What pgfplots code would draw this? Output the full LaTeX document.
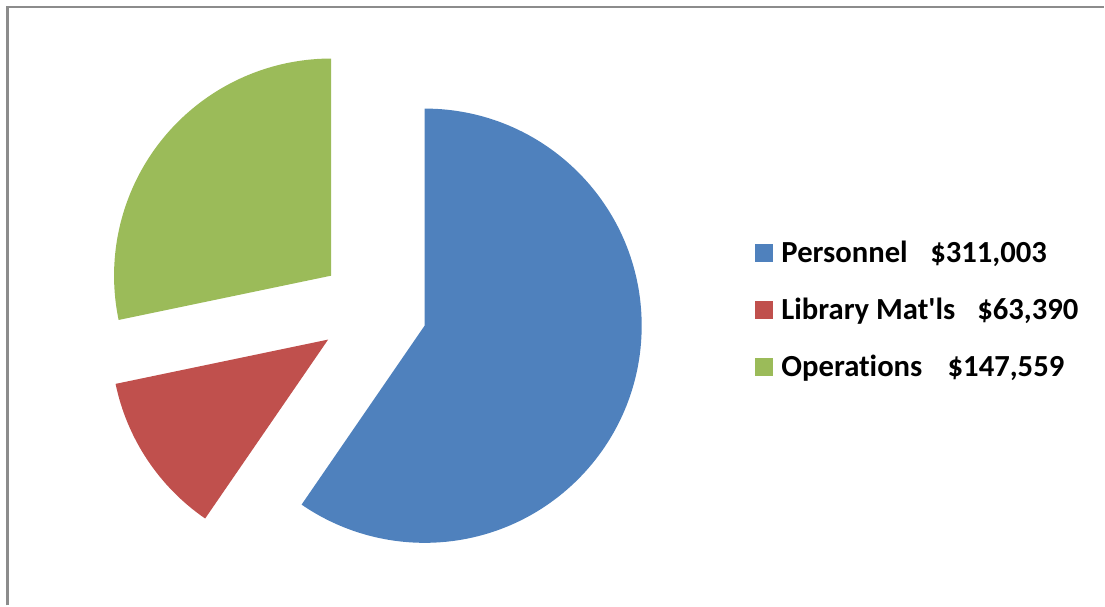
\documentclass[border=0pt]{standalone}
\usepackage{pgfplots}
\pgfplotsset{compat=1.18}
\usepackage{fontspec}
\setmainfont{Carlito}[Ligatures={NoCommon}]
\definecolor{cP}{HTML}{4F81BD}
\definecolor{cL}{HTML}{C0504D}
\definecolor{cO}{HTML}{9BBB59}
\definecolor{frame}{HTML}{8C8C8C}
% data
\newcommand\vP{311003}
\newcommand\vL{63390}
\newcommand\vO{147559}
\edef\tot{\fpeval{\vP+\vL+\vO}}
\edef\aA{90}
\edef\aB{\fpeval{90-360*\vP/\tot}}
\edef\aC{\fpeval{\aB-360*\vL/\tot}}
\edef\aD{\fpeval{\aC-360*\vO/\tot}}
\edef\mA{\fpeval{(\aA+\aB)/2}}
\edef\mB{\fpeval{(\aB+\aC)/2}}
\edef\mC{\fpeval{(\aC+\aD)/2}}
\def\cx{373.4}\def\cy{296}\def\ex{54}
\edef\pAx{\fpeval{\cx+\ex*cosd(\mA)}}\edef\pAy{\fpeval{\cy+\ex*sind(\mA)}}
\edef\pBx{\fpeval{\cx+\ex*cosd(\mB)}}\edef\pBy{\fpeval{\cy+\ex*sind(\mB)}}
\edef\pCx{\fpeval{\cx+\ex*cosd(\mC)}}\edef\pCy{\fpeval{\cy+\ex*sind(\mC)}}
\def\R{163pt}
\begin{document}
\begin{tikzpicture}
\begin{axis}[
  x=0.75pt, y=0.75pt,
  xmin=0, xmax=1105, ymin=0, ymax=606,
  hide axis, clip=false,
  legend cell align=left,
  legend style={at={(axis cs:751,296)}, anchor=west, draw=none, fill=none,
    font=\bfseries\fontsize{23}{27}\selectfont, row sep=21pt,
    nodes={inner xsep=7pt}},
]
\path (axis cs:0,0) rectangle (axis cs:1105,606);
\draw[frame, line width=1.6pt] (axis cs:7.5,0) -- (axis cs:7.5,599) -- (axis cs:1105,599);
\fill[cP] (axis cs:\pAx,\pAy) -- ++(\aA:\R) arc[start angle=\aA, end angle=\aB, radius=\R] -- cycle;
\fill[cL] (axis cs:\pBx,\pBy) -- ++(\aB:\R) arc[start angle=\aB, end angle=\aC, radius=\R] -- cycle;
\fill[cO] (axis cs:\pCx,\pCy) -- ++(\aC:\R) arc[start angle=\aC, end angle=\aD, radius=\R] -- cycle;
\addlegendimage{legend image code/.code={\fill[cP] (0pt,-6.4pt) rectangle (12.8pt,6.4pt);}}
\addlegendentry{Personnel\hspace{17pt}\$311,003}
\addlegendimage{legend image code/.code={\fill[cL] (0pt,-6.4pt) rectangle (12.8pt,6.4pt);}}
\addlegendentry{Library Mat\textquotesingle ls\hspace{16.5pt}\$63,390}
\addlegendimage{legend image code/.code={\fill[cO] (0pt,-6.4pt) rectangle (12.8pt,6.4pt);}}
\addlegendentry{Operations\hspace{19pt}\$147,559}
\end{axis}
\end{tikzpicture}
\end{document}
